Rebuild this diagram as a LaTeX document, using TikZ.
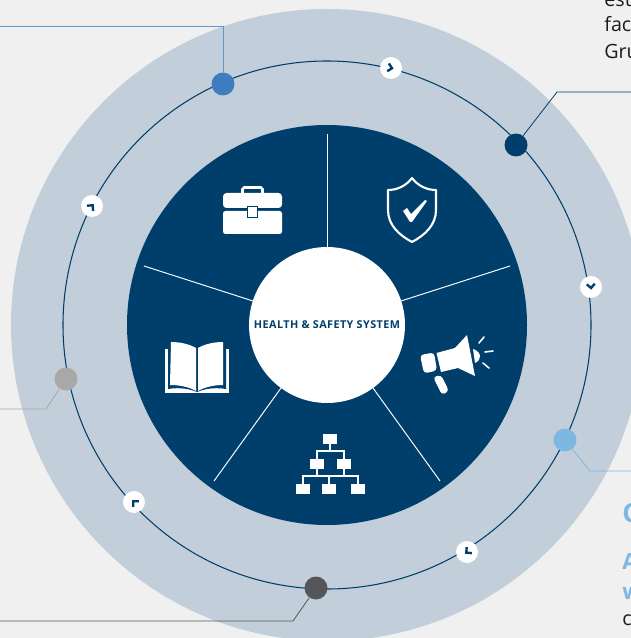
\documentclass[tikz,border=0pt]{standalone}
\usepackage{fontspec}
\setmainfont{Open Sans}
\newfontfamily\hubfont[LetterSpace=4]{Open Sans}
\definecolor{pagegray}{HTML}{F0F0F0}
\definecolor{ringgray}{HTML}{C2CED9}
\definecolor{navy}{HTML}{003F6B}
\definecolor{skyblue}{HTML}{7FB7E3}
\definecolor{midblue}{HTML}{3F7DC1}
\definecolor{stonegray}{HTML}{A8A8A8}
\definecolor{slategray}{HTML}{54565A}
\definecolor{bodyink}{HTML}{1C1C1C}
\tikzset{
  dotnode/.style={circle,minimum size=.46cm,inner sep=0pt,fill=#1},
  ticknode/.style={circle,minimum size=.44cm,inner sep=0pt,fill=white},
  tickmark/.style={navy,line width=1.35pt},
  spoke/.style={white,line width=.55pt},
  leader/.style={line width=.45pt,#1},
  bodytext/.style={anchor=base west,inner sep=0pt,text=bodyink,font=\fontsize{11.2}{13}\selectfont},
  headtext/.style={anchor=base west,inner sep=0pt,text=skyblue,font=\bfseries\fontsize{#1}{14}\selectfont},
}
\begin{document}
\begin{tikzpicture}[x=.02cm,y=-.02cm]
  \useasboundingbox (0,0) rectangle (631,638);
  \clip (0,0) rectangle (631,638);
  \fill [pagegray] (0,0) rectangle (631,638);
  \fill [ringgray] (327,325) circle (316);
  \draw [navy,line width=.6pt] (327,325) circle (264);
  \fill [navy] (327,325) circle (200);

  % spokes
  \draw [spoke] (327,247) -- (327,134);
  \draw [spoke] (401,301) -- (510,266);
  \draw [spoke] (373,388) -- (440,481);
  \draw [spoke] (281,388) -- (214,481);
  \draw [spoke] (253,301) -- (144,266);
  \node [circle,fill=white,minimum size=3.12cm,inner sep=0pt,text=navy,font=\hubfont\bfseries\fontsize{6.15}{7}\selectfont] (hub) at (327,325) {HEALTH \& SAFETY SYSTEM};

  % points on the ring
  \node [dotnode=midblue] (bluedot) at (223,84) {};
  \node [dotnode=navy] (navydot) at (516,145) {};
  \node [dotnode=skyblue] (skydot) at (565,440) {};
  \node [dotnode=slategray] (slatedot) at (316,588) {};
  \node [dotnode=stonegray] (stonedot) at (66,379) {};

  \coordinate (blueend) at (0,26);
  \coordinate (navyend) at (631,92);
  \coordinate (navybend) at (557,92);
  \coordinate (skyend) at (631,471);
  \coordinate (skybend) at (590,471);
  \coordinate (slateend) at (0,621);
  \coordinate (slatebend) at (293,621);
  \coordinate (stoneend) at (0,409);
  \coordinate (stonebend) at (46,409);
  \draw [leader=midblue!80!white] (blueend) -| (bluedot);
  \draw [leader=navy] (navyend) -- (navybend) -- (navydot);
  \draw [leader=skyblue] (skyend) -- (skybend) -- (skydot);
  \draw [leader=slategray] (slateend) -- (slatebend) -- (slatedot);
  \draw [leader=stonegray] (stoneend) -- (stonebend) -- (stonedot);

  % chevrons turn with the ring
  \foreach \tickname/\tickx/\ticky/\tickangle in {tickone/391/68/-12,ticktwo/591/287/-85,tickthree/467/552/-140,tickfour/134/502/135,tickfive/92/206/50} {
    \node [ticknode] (\tickname) at (\tickx,\ticky) {};
    \draw [tickmark,shift={(\tickname)},rotate=\tickangle] (-3,-4) -- (1,0) -- (-3,4);
  }

  % briefcase
  \draw [white,line width=1.5pt,rounded corners=1pt] (242.5,194) -- (242.5,187.5) -- (262.5,187.5) -- (262.5,194);
  \fill [white,rounded corners=2pt] (223,208) -- (223,193) -- (282,193) -- (282,208) -- cycle;
  \fill [white,rounded corners=1.4pt] (223,211) -- (282,211) -- (282,234) -- (223,234) -- cycle;
  \fill [navy] (246.5,206.5) rectangle (257.5,218);
  \fill [white] (247.5,207) rectangle (256.5,217);

  % shield
  \draw [white,line width=1.2pt,line join=round] (412,178) .. controls (418,186) and (427,190) .. (436,190) -- (436,210) .. controls (436,225) and (425,235) .. (412,242) .. controls (399,235) and (388,225) .. (388,210) -- (388,190) .. controls (397,190) and (406,186) .. (412,178) -- cycle;
  \fill [white] (403,211) -- (407,208) -- (411,214) -- (425,200) -- (427,201) -- (412,222) -- (410,222) -- cycle;

  % megaphone
  \fill [white,rounded corners=2pt] (420,355) -- (434,352.5) -- (437,370.5) -- (424,373.5) -- cycle;
  \fill [white] (436.5,353) -- (455,348) -- (467,335) -- (475,376) -- (458,368) -- (441,372) -- cycle;
  \fill [white] (473,349) .. controls (482,352) and (482,360) .. (475,363) -- cycle;
  \fill [white,rounded corners=2pt] (433,377) -- (441,375) -- (449,391) -- (442,395) -- cycle;
  \draw [white,line width=.9pt,line cap=round] (479,343) -- (484,337);
  \draw [white,line width=.9pt,line cap=round] (485,352) -- (493,351);
  \draw [white,line width=.9pt,line cap=round] (483,363) -- (489,368);

  % open book
  \fill [white] (165,349) rectangle (229,393);
  \fill [navy] (168,346) -- (168,389) .. controls (180,387) and (190,389) .. (197,392) .. controls (204,389) and (214,387) .. (226,389) -- (226,346) -- cycle;
  \fill [white] (171,342) .. controls (180,342) and (189,344) .. (196,348) -- (196,391) .. controls (189,387) and (180,385) .. (170,385) -- cycle;
  \fill [white] (223,342) .. controls (214,342) and (205,344) .. (198,348) -- (198,391) .. controls (205,387) and (214,385) .. (223,385) -- cycle;

  % org chart
  \draw [white,line width=1pt] (330,444) -- (330,451);
  \draw [white,line width=1pt] (317,459) -- (317,451) -- (344,451) -- (344,459);
  \draw [white,line width=1pt] (317,469) -- (317,476);
  \draw [white,line width=1pt] (344,469) -- (344,476);
  \draw [white,line width=1pt] (303,484) -- (303,476) -- (358,476) -- (358,484);
  \draw [white,line width=1pt] (329,476) -- (329,484);
  \foreach \boxx/\boxy in {323/434,310/459,337/459,296/484,322/484,351/484} {
    \fill [white] (\boxx,\boxy) rectangle ++(14,10);
  }

  % text cut off by the page
  \node [bodytext] (estline) at (604,7) {est};
  \node [bodytext] (facline) at (604,32) {fac};
  \node [bodytext] (gruline) at (604,59) {Gru};
  \node [headtext=15] (bigcap) at (622,522) {C};
  \node [headtext=12.6] (aline) at (622,569) {A};
  \node [headtext=12.6] (wline) at (622,599) {w};
  \node [bodytext] (cline) at (622,625) {c};
\end{tikzpicture}
\end{document}
